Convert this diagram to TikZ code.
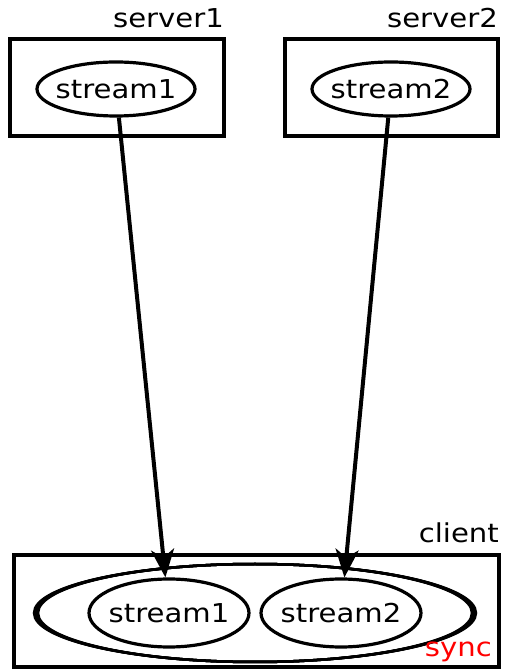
\documentclass[tikz,border=0pt]{standalone}
\usepackage{fontspec}
\setmainfont[FakeStretch=1.12]{DejaVu Sans}
\usetikzlibrary{arrows.meta, shapes.geometric}

\begin{document}
\begin{tikzpicture}[
    x=1pt, y=1pt,
    host/.style={rectangle, draw, line width=4pt, outer sep=0pt,
        inner sep=0pt, minimum height=#1},
    stream/.style={ellipse, draw, line width=3.2pt, inner sep=0pt,
        label={[font=\fontsize{26}{30}\selectfont]center:#1}},
    tag/.style={anchor=base east, inner sep=0pt,
        font=\fontsize{26}{30}\selectfont},
    flow/.style={-{Stealth[length=28pt, width=23pt, inset=8pt]},
        line width=4pt}
]
\useasboundingbox (0,0) rectangle (505,670);

% the two servers
\node[host=97pt, minimum width=214.5pt] (server1) at (116.75,582.5) {};
\node[host=97pt, minimum width=213pt] (server2) at (391.5,582.5) {};
\node[tag] (lserver1) at ([yshift=11pt]server1.north east) {server1};
\node[tag] (lserver2) at ([yshift=11pt]server2.north east) {server2};
\node[stream=stream1, minimum width=158pt, minimum height=54pt] (s1) at (116,581) {};
\node[stream=stream2, minimum width=158pt, minimum height=54pt] (s2) at (391,581) {};

% client with the synced pair
\node[host=112pt, minimum width=485pt] (client) at (256.5,59) {};
\node[tag] (lclient) at ([yshift=12pt]client.north east) {client};
\node[ellipse, draw, line width=2.5pt, inner sep=0pt,
      minimum width=442pt, minimum height=98pt] (sync) at (255,57) {};
% thicker rim at both ends
\foreach \rx in {217,218,219,220}
    \draw[line width=2.5pt] (sync.center) ellipse [x radius=\rx pt, y radius=49pt];
\node[tag, text=red] (lsync) at ([xshift=-7pt, yshift=10pt]client.south east) {sync};
\node[stream=stream1, minimum width=160pt, minimum height=68pt] (c1) at (169,57) {};
\node[stream=stream2, minimum width=160pt, minimum height=68pt] (c2) at (341,57) {};

\draw[flow] (s1) -- (c1);
\draw[flow] (s2) -- (c2);
\end{tikzpicture}
\end{document}
